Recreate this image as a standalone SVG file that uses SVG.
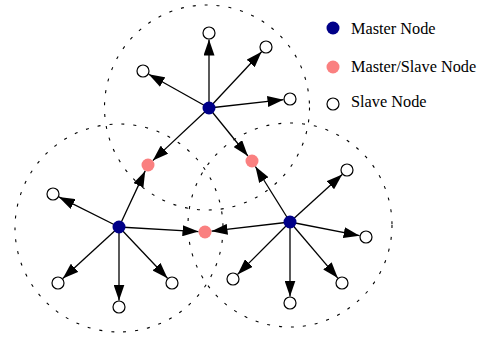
<svg xmlns="http://www.w3.org/2000/svg" width="482" height="339" viewBox="0 0 482 339">
  <defs>
    <marker id="arrow" viewBox="0 0 16 11" refX="16" refY="5.5" markerWidth="16" markerHeight="11" markerUnits="userSpaceOnUse" orient="auto">
      <path d="M0,0 L16,5.5 L0,11 z" fill="#000"/>
    </marker>
  </defs>
  <style>
    .range { fill: none; stroke: #000; stroke-width: 1.1; stroke-dasharray: 3 9; }
    .link { stroke: #000; stroke-width: 1.3; fill: none; marker-end: url(#arrow); }
    .master { fill: #000088; }
    .both { fill: #FA8080; }
    .slave { fill: #fff; stroke: #000; stroke-width: 1.2; }
    .label { font-family: "Liberation Serif", "Times New Roman", serif; font-size: 16.3px; fill: #000; }
  </style>

  <!-- coverage ranges of the three masters -->
  <g id="ranges">
    <circle class="range" cx="207" cy="107.5" r="102.5"/>
    <circle class="range" cx="119" cy="228" r="104"/>
    <circle class="range" cx="290" cy="225" r="102"/>
  </g>

  <g id="connectors">
    <!-- top master -->
    <line class="link" x1="209" y1="108" x2="209" y2="39.5"/>
    <line class="link" x1="209" y1="108" x2="261.6" y2="51.8"/>
    <line class="link" x1="209" y1="108" x2="148.7" y2="74.2"/>
    <line class="link" x1="209" y1="108" x2="283.5" y2="99.7"/>
    <line class="link" x1="209" y1="108" x2="152.8" y2="160.6"/>
    <line class="link" x1="209" y1="108" x2="247.9" y2="156"/>
    <!-- left master -->
    <line class="link" x1="119" y1="227" x2="145.2" y2="170.9"/>
    <line class="link" x1="119" y1="227" x2="58.8" y2="196.9"/>
    <line class="link" x1="119" y1="227" x2="62.8" y2="278.6"/>
    <line class="link" x1="119" y1="227" x2="119" y2="300.5"/>
    <line class="link" x1="119" y1="227" x2="167.5" y2="278.3"/>
    <line class="link" x1="119" y1="227" x2="198.5" y2="231.6"/>
    <!-- right master -->
    <line class="link" x1="290" y1="222" x2="255.4" y2="166.5"/>
    <line class="link" x1="290" y1="222" x2="211.5" y2="231.2"/>
    <line class="link" x1="290" y1="222" x2="342.2" y2="174.4"/>
    <line class="link" x1="290" y1="222" x2="359.6" y2="235.7"/>
    <line class="link" x1="290" y1="222" x2="337.8" y2="278.1"/>
    <line class="link" x1="290" y1="222" x2="290" y2="296.5"/>
    <line class="link" x1="290" y1="222" x2="237.6" y2="274.4"/>
  </g>

  <!-- masters -->
  <g id="master-top"><circle class="master" cx="209" cy="108" r="6.5"/></g>
  <g id="master-left"><circle class="master" cx="119" cy="227" r="6.5"/></g>
  <g id="master-right"><circle class="master" cx="290" cy="222" r="6.5"/></g>

  <!-- shared master/slave nodes -->
  <g id="both-left"><circle class="both" cx="148" cy="165" r="6.5"/></g>
  <g id="both-right"><circle class="both" cx="252" cy="161" r="6.5"/></g>
  <g id="both-bottom"><circle class="both" cx="205" cy="232" r="6.5"/></g>

  <!-- slaves -->
  <g id="slave-t1"><circle class="slave" cx="209" cy="33" r="6"/></g>
  <g id="slave-t2"><circle class="slave" cx="266" cy="47" r="6"/></g>
  <g id="slave-t3"><circle class="slave" cx="143" cy="71" r="6"/></g>
  <g id="slave-t4"><circle class="slave" cx="290" cy="99" r="6"/></g>
  <g id="slave-l1"><circle class="slave" cx="53" cy="194" r="6"/></g>
  <g id="slave-l2"><circle class="slave" cx="58" cy="283" r="6"/></g>
  <g id="slave-l3"><circle class="slave" cx="119" cy="307" r="6"/></g>
  <g id="slave-l4"><circle class="slave" cx="172" cy="283" r="6"/></g>
  <g id="slave-r1"><circle class="slave" cx="347" cy="170" r="6"/></g>
  <g id="slave-r2"><circle class="slave" cx="366" cy="237" r="6"/></g>
  <g id="slave-r3"><circle class="slave" cx="342" cy="283" r="6"/></g>
  <g id="slave-r4"><circle class="slave" cx="290" cy="303" r="6"/></g>
  <g id="slave-r5"><circle class="slave" cx="233" cy="279" r="6"/></g>

  <!-- legend -->
  <g id="legend">
    <circle class="master" cx="333" cy="28" r="6.5"/>
    <text class="label" x="351" y="34">Master Node</text>
    <circle class="both" cx="333" cy="67" r="6.5"/>
    <text class="label" x="351" y="72">Master/Slave Node</text>
    <circle class="slave" cx="333" cy="104" r="6"/>
    <text class="label" x="351" y="107">Slave Node</text>
  </g>
</svg>
